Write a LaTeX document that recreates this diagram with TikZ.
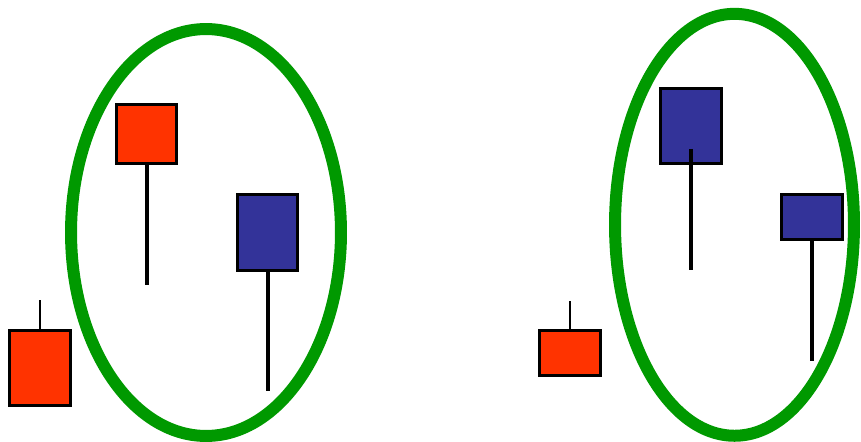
\documentclass[tikz,border=0pt]{standalone}
\usepackage{tikz}
\usepackage{xcolor}
\usetikzlibrary{positioning,calc}

\definecolor{upred}{HTML}{FF3300}
\definecolor{downblue}{HTML}{333399}
\definecolor{ringgreen}{HTML}{009900}

\begin{document}
\begin{tikzpicture}[
    x=0.02cm,y=-0.02cm,
    ring/.style={draw=ringgreen,line width=0.24cm},
    candle/.style={draw=black,line width=0.06cm,rectangle,inner sep=0pt,outer sep=0pt,minimum width=1.22cm},
    up/.style={candle,fill=upred},
    down/.style={candle,fill=downblue},
    wick/.style={draw=black,line width=0.08cm},
    thinwick/.style={draw=black,line width=0.04cm}
  ]
  \useasboundingbox (0,0) rectangle (861,442);
  % the two groups
  \draw[ring] (206,232.5) ellipse [x radius=2.7cm,y radius=4.07cm];
  \draw[ring] (734.5,224.8) ellipse [x radius=2.39cm,y radius=4.22cm];
  % left pattern
  \node[up,minimum height=1.52cm] (r1) at (40,368) {};
  \node[up,minimum height=1.2cm] (r2) at (146.5,134) {};
  \node[down,minimum height=1.54cm] (b1) at (267.5,232.5) {};
  \coordinate (r1top) at (40,300);
  \coordinate (r2low) at (146.5,285);
  \coordinate (b1low) at (267.5,391);
  \draw[thinwick] (r1top) -- (r1.north);
  \draw[wick] (r2.south) -- (r2low);
  \draw[wick] (b1.south) -- (b1low);
  % right pattern
  \node[up,minimum height=0.92cm] (r3) at (569.5,353) {};
  \node[down,minimum height=1.52cm] (b2) at (690.5,126) {};
  \node[down,minimum height=0.92cm] (b3) at (811.5,217) {};
  \coordinate (r3top) at (569.5,301);
  \coordinate (b2top) at (690.5,149);
  \coordinate (b2low) at (690.5,270);
  \coordinate (b3low) at (811.5,361);
  \draw[thinwick] (r3top) -- (r3.north);
  \draw[wick] (b2top) -- (b2low);
  \draw[wick] (b3.south) -- (b3low);
\end{tikzpicture}
\end{document}
